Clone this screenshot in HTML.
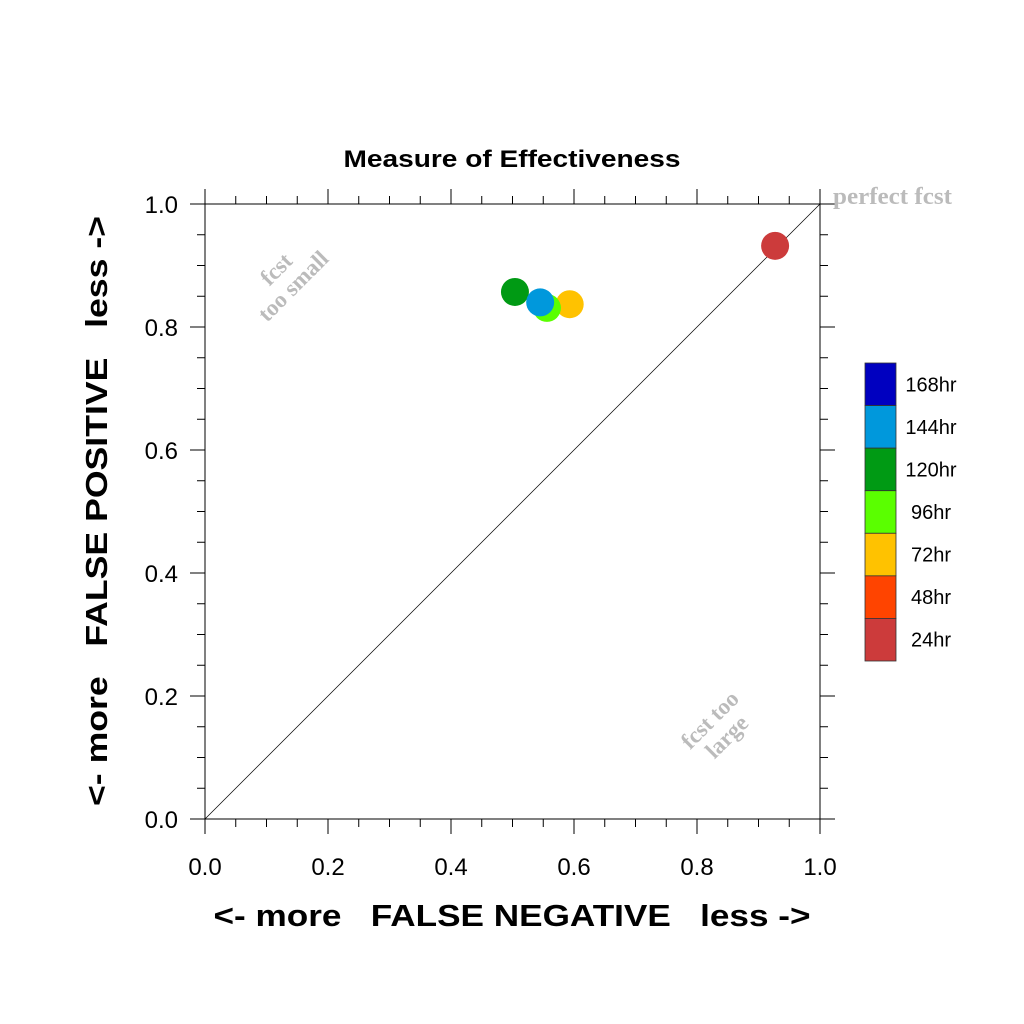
<!DOCTYPE html>
<html><head><meta charset="utf-8"><style>body{margin:0;background:#fff}svg{display:block}</style></head>
<body>
<svg id="chart" width="1024" height="1024" xmlns="http://www.w3.org/2000/svg" font-family="Liberation Sans, sans-serif">
<rect width="1024" height="1024" fill="#fff"/>
<text x="512" y="167" text-anchor="middle" font-size="24" font-weight="bold" textLength="337" lengthAdjust="spacingAndGlyphs">Measure of Effectiveness</text>
<g id="axes"></g>
<line x1="205" y1="819" x2="820" y2="204" stroke="#000" stroke-width="0.7"/>
<text x="833" y="204" font-family="Liberation Serif, serif" font-weight="bold" font-size="24" fill="#bbb" textLength="119" lengthAdjust="spacingAndGlyphs">perfect fcst</text>
<g transform="translate(290,283) rotate(-45)" font-family="Liberation Serif, serif" font-weight="bold" font-size="23" fill="#bbb" text-anchor="middle"><text x="0" y="-12">fcst</text><text x="0" y="12">too small</text></g>
<g transform="translate(718,728) rotate(-45)" font-family="Liberation Serif, serif" font-weight="bold" font-size="23" fill="#bbb" text-anchor="middle"><text x="0" y="-4">fcst too</text><text x="0" y="20">large</text></g>
<text x="512" y="926" text-anchor="middle" font-size="31" font-weight="bold" xml:space="preserve" textLength="597" lengthAdjust="spacingAndGlyphs">&lt;- more   FALSE NEGATIVE   less -&gt;</text>
<text transform="translate(107,511) rotate(-90)" text-anchor="middle" font-size="31" font-weight="bold" xml:space="preserve" textLength="590" lengthAdjust="spacingAndGlyphs">&lt;- more   FALSE POSITIVE   less -&gt;</text>
<g id="points"></g>
<g id="legend"></g>
</svg>
<script>
const seriesLabels = ["24hr","72hr","96hr","120hr","144hr"];
const seriesColors = ["#cc3b3b","#ffc200","#5aff00","#009a14","#0098dc"];
const falseNegative = [0.927, 0.593, 0.556, 0.504, 0.545];
const falsePositive = [0.932, 0.837, 0.831, 0.857, 0.840];
const tickLabels = ["0.0","0.2","0.4","0.6","0.8","1.0"];
const legendLabels = ["168hr","144hr","120hr","96hr","72hr","48hr","24hr"];
const legendColors = ["#0000c0","#0098dc","#009a14","#5aff00","#ffc200","#ff4400","#cc3b3b"];

const NS="http://www.w3.org/2000/svg";
const X0=205,X1=820,Y0=819,Y1=204;
const sx=v=>X0+(X1-X0)*v, sy=v=>Y0-(Y0-Y1)*v;
function mk(tag,attrs,parent,text){const e=document.createElementNS(NS,tag);for(const k in attrs)e.setAttribute(k,attrs[k]);if(text!==undefined)e.textContent=text;parent.appendChild(e);return e;}
const axes=document.getElementById('axes');
const frame=mk('rect',{x:X0,y:Y1,width:X1-X0,height:Y0-Y1,fill:'none',stroke:'#000','stroke-width':1},axes);


for(let i=0;i<=20;i++){
  const v=i/20, major=i%4===0, L=major?15:8;
  const x=sx(v), y=sy(v);
  [[x,Y0,x,Y0+L],[x,Y1,x,Y1-L],[X0,y,X0-L,y],[X1,y,X1+L,y]].forEach(c=>{
    const t=mk('line',{x1:c[0],y1:c[1],x2:c[2],y2:c[3],stroke:'#000','stroke-width':1},axes);
    
    
  });
}
tickLabels.forEach((lab,i)=>{
  const v=i/5;
  const tx=mk('text',{x:sx(v),y:875,'text-anchor':'middle','font-size':24},axes,lab);
  
  
  const ty=mk('text',{x:178,y:sy(v)+9,'text-anchor':'end','font-size':24},axes,lab);
  
  
});
const pts=document.getElementById('points');
falseNegative.forEach((v,i)=>{
  const c=mk('circle',{cx:sx(v),cy:sy(falsePositive[i]),r:14,fill:seriesColors[i]},pts);
  
  
});
const lg=document.getElementById('legend');
const LH=(661-363)/legendLabels.length;
legendLabels.forEach((lab,i)=>{
  const y=363+i*LH;
  const r=mk('rect',{x:865,y:y,width:31,height:LH,fill:legendColors[i],stroke:'#333','stroke-width':0.8},lg);
  
  
  const t=mk('text',{x:931,y:y+LH/2+7,'text-anchor':'middle','font-size':20},lg,lab);
  
  
});
</script>
</body></html>
